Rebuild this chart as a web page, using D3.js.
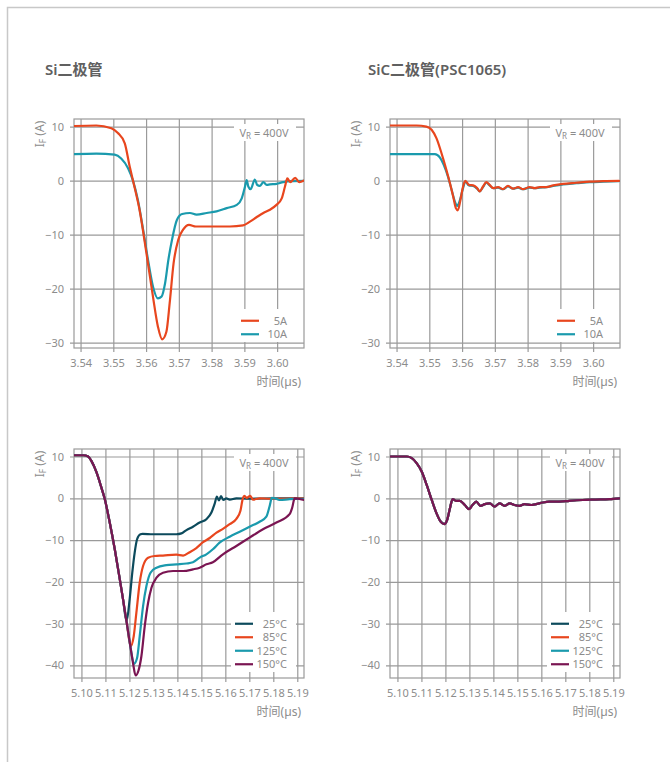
<!DOCTYPE html>
<html>
<head>
<meta charset="utf-8">
<script src="https://cdn.jsdelivr.net/npm/d3@7/dist/d3.min.js"></script>
<style>
  html, body { margin: 0; padding: 0; background: #fff; }
  svg { display: block; }
</style>
</head>
<body>
<svg id="chart" width="670" height="762"></svg>
<script>
// ---- Reverse-recovery current waveforms, I_F (A) vs time (µs) ----

// Time axis ticks
const timeTicksTop = [3.54, 3.55, 3.56, 3.57, 3.58, 3.59, 3.60];
const timeTicksBottom = [5.10, 5.11, 5.12, 5.13, 5.14, 5.15, 5.16, 5.17, 5.18, 5.19];
const currentTicksTop = [10, 0, -10, -20, -30];
const currentTicksBottom = [10, 0, -10, -20, -30, -40];

const panelTitles = ["Si二极管", "SiC二极管(PSC1065)"];
const currentLegend = ["5A", "10A"];
const tempLegend = ["25°C", "85°C", "125°C", "150°C"];

// Si diode, two forward currents: [t (µs), I_F (A)]
const si5A = [[3.538,10.1],[3.5448,10.2],[3.5494,9.7],[3.5514,8.8],[3.5535,6.9],[3.555,2.6],[3.556,0],[3.558,-5.4],[3.5601,-13.4],[3.5621,-21.5],[3.5636,-27],[3.5649,-29.4],[3.5662,-28],[3.5672,-22.7],[3.5684,-15.3],[3.5698,-11],[3.5713,-9.1],[3.5731,-8.2],[3.5752,-8.5],[3.5805,-8.5],[3.5856,-8.5],[3.5896,-8.3],[3.5917,-7.6],[3.5937,-6.8],[3.5958,-6.0],[3.5978,-5.4],[3.5998,-4.5],[3.6014,-3.3],[3.6024,-1.1],[3.6031,0.4],[3.604,-0.3],[3.6055,0.5],[3.6068,-0.3],[3.6082,0]];
const si10A = [[3.538,4.9],[3.5448,5.0],[3.5504,4.8],[3.5524,4.1],[3.5545,2.3],[3.556,0],[3.5575,-3.6],[3.5591,-9.1],[3.5606,-14.7],[3.5621,-19.6],[3.5636,-21.8],[3.5647,-21.5],[3.5658,-19],[3.5668,-14.7],[3.5679,-11],[3.5694,-7.3],[3.571,-6.2],[3.5734,-6.0],[3.5754,-6.3],[3.5785,-6.0],[3.5815,-5.7],[3.5846,-5.1],[3.5877,-4.5],[3.5892,-3.3],[3.5902,-1.1],[3.5907,0.1],[3.5912,-1.1],[3.5919,-1.6],[3.5932,0.2],[3.5939,-0.8],[3.5947,-1.0],[3.5958,-0.3],[3.5968,-0.8],[3.5978,-0.7],[3.5998,-0.6],[3.6018,-0.3],[3.604,-0.1],[3.6082,-0.05]];

// SiC diode (PSC1065), two forward currents
const sic5A = [[3.538,10.2],[3.5461,10.2],[3.5491,10],[3.5507,9.4],[3.5522,7.8],[3.5537,5.1],[3.5552,2.0],[3.5563,-0.5],[3.5573,-3.0],[3.5581,-5.1],[3.5587,-5.5],[3.5595,-3.6],[3.5603,-1.1],[3.561,-0.05],[3.5621,-0.8],[3.5634,-0.9],[3.5646,-1.4],[3.5654,-2.0],[3.5664,-1.1],[3.5674,-0.3],[3.5684,-0.8],[3.5695,-1.4],[3.571,-1.2],[3.5725,-1.6],[3.574,-1.0],[3.5756,-1.5],[3.5771,-1.2],[3.5786,-1.6],[3.5806,-1.2],[3.5822,-1.4],[3.5837,-1.2],[3.5857,-1.2],[3.5878,-0.9],[3.5908,-0.6],[3.5949,-0.4],[3.599,-0.2],[3.6031,-0.1],[3.6079,-0.05]];
const sic10A = [[3.538,4.9],[3.5461,4.9],[3.5517,4.9],[3.5532,4.3],[3.5544,2.9],[3.5557,0.7],[3.5568,-1.7],[3.5578,-3.9],[3.5585,-4.7],[3.5592,-3.9],[3.5603,-1.4],[3.561,-0.2],[3.5621,-0.9],[3.5634,-1.0],[3.5646,-1.5],[3.5654,-2.0],[3.5664,-1.2],[3.5674,-0.4],[3.5684,-0.9],[3.5695,-1.4],[3.571,-1.3],[3.5725,-1.6],[3.574,-1.1],[3.5756,-1.5],[3.5771,-1.3],[3.5786,-1.6],[3.5806,-1.3],[3.5822,-1.4],[3.5837,-1.3],[3.5857,-1.2],[3.5878,-1.0],[3.5908,-0.7],[3.5949,-0.5],[3.599,-0.3],[3.6031,-0.2],[3.6079,-0.1]];

// Si diode at four junction temperatures
const si25C = [[5.0969,10.3],[5.1007,10.3],[5.1028,10],[5.1042,8.9],[5.1063,6.2],[5.1083,2.6],[5.1097,-0.1],[5.1118,-5.8],[5.1139,-12.2],[5.116,-19.4],[5.1173,-24.0],[5.1188,-29.4],[5.1201,-24.2],[5.1212,-17.8],[5.1222,-13],[5.1232,-9.8],[5.1246,-8.6],[5.1255,-8.5],[5.1298,-8.6],[5.134,-8.6],[5.1396,-8.6],[5.1417,-8.4],[5.1438,-7.6],[5.1465,-6.8],[5.1493,-5.8],[5.1521,-5.0],[5.1542,-3.4],[5.1555,-1.4],[5.1565,0.4],[5.1573,-0.5],[5.1582,0.5],[5.1592,-0.4],[5.1604,0],[5.1618,-0.3],[5.1646,0],[5.17,-0.1],[5.18,0],[5.1928,0]];
const si85C = [[5.0969,10.3],[5.1007,10.3],[5.1028,10],[5.1042,8.9],[5.1063,6.2],[5.1083,2.6],[5.1097,-0.1],[5.1118,-5.8],[5.1139,-12.2],[5.116,-19.4],[5.1173,-24.0],[5.119,-30.2],[5.1205,-35.4],[5.1218,-33],[5.1229,-27.4],[5.1243,-20.2],[5.1257,-16.2],[5.1278,-14.2],[5.1305,-13.8],[5.134,-13.7],[5.1396,-13.5],[5.1424,-13.7],[5.1451,-12.9],[5.1479,-11.9],[5.1507,-10.5],[5.1535,-9.5],[5.1563,-8.2],[5.159,-7.3],[5.1618,-6.2],[5.1646,-4.9],[5.1663,-3.0],[5.1673,0],[5.168,0.6],[5.1689,0.1],[5.1704,0.6],[5.1715,-0.3],[5.1743,0],[5.1785,-0.1],[5.1928,0]];
const si125C = [[5.0969,10.3],[5.1007,10.3],[5.1028,10],[5.1042,8.9],[5.1063,6.2],[5.1083,2.6],[5.1097,-0.1],[5.1118,-5.8],[5.1139,-12.2],[5.116,-19.4],[5.1173,-24.0],[5.119,-30.2],[5.1205,-35.8],[5.1219,-39.6],[5.1232,-38.2],[5.1243,-33],[5.1257,-25.8],[5.1271,-21],[5.1288,-17.8],[5.1313,-16.6],[5.1354,-16.0],[5.1396,-15.8],[5.1438,-15.6],[5.1465,-15.3],[5.1493,-14.2],[5.1521,-13.4],[5.1548,-12.2],[5.1576,-10.6],[5.1618,-9.2],[5.166,-8.0],[5.1701,-6.8],[5.1743,-5.6],[5.1771,-4.4],[5.1785,-1.8],[5.1794,0.1],[5.1806,0],[5.1826,-0.4],[5.1868,-0.2],[5.1928,-0.1]];
const si150C = [[5.0969,10.3],[5.1007,10.3],[5.1028,10],[5.1042,8.9],[5.1063,6.2],[5.1083,2.6],[5.1097,-0.1],[5.1118,-5.8],[5.1139,-12.2],[5.116,-19.4],[5.1173,-24.0],[5.119,-30.2],[5.1205,-35.8],[5.1215,-39.4],[5.1226,-42.4],[5.1238,-41.2],[5.125,-37.8],[5.1264,-30.6],[5.1278,-25],[5.1292,-21.4],[5.1313,-19],[5.134,-17.8],[5.1382,-17.4],[5.1424,-17.4],[5.1465,-17.0],[5.1493,-16.6],[5.1521,-15.8],[5.1548,-15.3],[5.159,-13.4],[5.1646,-11.4],[5.1701,-9.4],[5.1757,-7.4],[5.1813,-5.8],[5.1868,-3.8],[5.1879,-2.2],[5.1889,0],[5.1903,-0.1],[5.1928,-0.4]];

// SiC diode at four junction temperatures (shared time base)
const sicTempTime = [5.0969,5.1039,5.106,5.108,5.1101,5.1122,5.1143,5.1163,5.118,5.1195,5.1207,5.1219,5.123,5.1244,5.126,5.1281,5.1298,5.1313,5.1329,5.1346,5.1364,5.1385,5.1405,5.1426,5.1447,5.1468,5.1488,5.1509,5.153,5.1558,5.1578,5.1606,5.1634,5.1675,5.1717,5.1772,5.1827,5.1883,5.1928];
const sic25C  = [10,10,9.6,8.4,6.4,3.2,-0.4,-3.6,-5.5,-6.1,-5.2,-2.4,-0.2,-0.6,-0.6,-1.6,-2.5,-1.6,-0.8,-1.8,-1.4,-1.2,-1.9,-1.2,-1.8,-1.2,-1.6,-1.8,-1.4,-1.6,-1.4,-1.0,-0.8,-0.8,-0.6,-0.4,-0.3,-0.2,0];
const sic85C  = [10,10,9.6,8.4,6.4,3.2,-0.4,-3.6,-5.6,-6.2,-5.2,-2.4,-0.2,-0.6,-0.6,-1.6,-2.6,-1.6,-0.8,-1.8,-1.4,-1.2,-2.0,-1.2,-1.8,-1.2,-1.6,-1.8,-1.4,-1.6,-1.4,-1.0,-0.8,-0.8,-0.6,-0.4,-0.3,-0.2,0];
const sic125C = [10,10,9.6,8.4,6.4,3.2,-0.4,-3.6,-5.6,-6.2,-5.2,-2.4,-0.2,-0.6,-0.6,-1.6,-2.6,-1.6,-0.8,-1.8,-1.4,-1.2,-2.0,-1.2,-1.8,-1.2,-1.6,-1.8,-1.4,-1.6,-1.4,-1.0,-0.8,-0.8,-0.6,-0.4,-0.3,-0.2,0];
const sic150C = [10,10,9.6,8.4,6.4,3.2,-0.4,-3.6,-5.6,-6.2,-5.2,-2.4,-0.2,-0.6,-0.6,-1.6,-2.6,-1.6,-0.8,-1.8,-1.4,-1.2,-2.0,-1.2,-1.8,-1.2,-1.6,-1.8,-1.4,-1.6,-1.4,-1.0,-0.8,-0.8,-0.6,-0.4,-0.3,-0.2,0];

// ---- styling ----
const FONT = "'Noto Sans', 'Noto Sans CJK SC', sans-serif";
const TEXT = "#8c8c8c";
const GRID = "#9a9a9a";
const COLORS = {
  orange: "#e8461e",
  teal: "#1a9aad",
  navy: "#0c4a5c",
  plum: "#7a1552"
};

const zip = (t, v) => t.map((d, i) => [d, v[i]]);

const panels = [
  { x: 74, y: 119, w: 230, h: 229, xDomain: [3.538, 3.6082], yDomain: [-31, 11.4],
    xTicks: timeTicksTop, yTicks: currentTicksTop,
    series: [ { data: si10A, color: COLORS.teal }, { data: si5A, color: COLORS.orange } ],
    legend: [ { label: currentLegend[0], color: COLORS.orange }, { label: currentLegend[1], color: COLORS.teal } ] },
  { x: 390, y: 119, w: 230, h: 229, xDomain: [3.538, 3.6082], yDomain: [-31, 11.4],
    xTicks: timeTicksTop, yTicks: currentTicksTop,
    series: [ { data: sic10A, color: COLORS.teal }, { data: sic5A, color: COLORS.orange } ],
    legend: [ { label: currentLegend[0], color: COLORS.orange }, { label: currentLegend[1], color: COLORS.teal } ] },
  { x: 74, y: 449, w: 230, h: 229, xDomain: [5.0969, 5.1928], yDomain: [-43, 11.8],
    xTicks: timeTicksBottom, yTicks: currentTicksBottom,
    series: [ { data: si25C, color: COLORS.navy }, { data: si85C, color: COLORS.orange },
              { data: si125C, color: COLORS.teal }, { data: si150C, color: COLORS.plum } ],
    legend: tempLegend.map((l, i) => ({ label: l, color: [COLORS.navy, COLORS.orange, COLORS.teal, COLORS.plum][i] })) },
  { x: 390, y: 449, w: 230, h: 229, xDomain: [5.0969, 5.1928], yDomain: [-43, 11.8],
    xTicks: timeTicksBottom, yTicks: currentTicksBottom,
    series: [ { data: zip(sicTempTime, sic25C), color: COLORS.navy }, { data: zip(sicTempTime, sic85C), color: COLORS.orange },
              { data: zip(sicTempTime, sic125C), color: COLORS.teal }, { data: zip(sicTempTime, sic150C), color: COLORS.plum } ],
    legend: tempLegend.map((l, i) => ({ label: l, color: [COLORS.navy, COLORS.orange, COLORS.teal, COLORS.plum][i] })) }
];

const svg = d3.select("#chart");

// page frame
svg.append("path")
  .attr("d", "M7.5,762 V7.5 H670")
  .attr("fill", "none").attr("stroke", "#c8c8c8").attr("stroke-width", 1.5);

// column titles
[[45, panelTitles[0]], [368, panelTitles[1]]].forEach(([x, t]) => {
  svg.append("text").attr("x", x).attr("y", 75)
    .attr("font-family", FONT).attr("font-size", 15).attr("font-weight", 600)
    .attr("fill", "#606060").text(t);
});

const fmtY = v => (v < 0 ? "\u2212" + Math.abs(v) : String(v));

panels.forEach((p, pi) => {
  const g = svg.append("g").attr("transform", `translate(${p.x},${p.y})`);
  const xs = d3.scaleLinear().domain(p.xDomain).range([0, p.w]);
  const ys = d3.scaleLinear().domain(p.yDomain).range([p.h, 0]);

  // gridlines (extend a little outside as ticks)
  const yAxis = d3.axisLeft(ys).tickValues(p.yTicks).tickSizeInner(-p.w - 4).tickSizeOuter(0).tickPadding(6).tickFormat(fmtY);
  const yg = g.append("g").attr("transform", "translate(-4,0)").call(yAxis);
  yg.select(".domain").remove();
  const xAxis = d3.axisBottom(xs).tickValues(p.xTicks).tickSizeInner(-p.h - 4).tickSizeOuter(0).tickPadding(7).tickFormat(d3.format(".2f"));
  const xg = g.append("g").attr("transform", `translate(0,${p.h + 4})`).call(xAxis);
  xg.select(".domain").remove();
  [yg, xg].forEach(a => {
    a.selectAll(".tick line").attr("stroke", GRID).attr("stroke-width", 1.2);
    a.selectAll(".tick text").attr("fill", TEXT).attr("font-family", FONT).attr("font-size", 11);
  });
  yg.selectAll(".tick text").attr("x", -6);

  // plot frame
  g.append("rect").attr("x", 0).attr("y", 0).attr("width", p.w).attr("height", p.h)
    .attr("fill", "none").attr("stroke", GRID).attr("stroke-width", 1.2);

  // V_R annotation box
  const vr = g.append("g").attr("transform", `translate(${p.w - 40},14)`);
  vr.append("rect").attr("x", -30).attr("y", -9).attr("width", 62).attr("height", 17).attr("fill", "#fff");
  const vt = vr.append("text").attr("text-anchor", "middle").attr("y", 4)
    .attr("font-family", FONT).attr("font-size", 11).attr("fill", TEXT);
  vt.append("tspan").text("V");
  vt.append("tspan").attr("font-size", 8).attr("dy", 2).text("R");
  vt.append("tspan").attr("dy", -2).text(" = 400V");

  // legend box
  const n = p.legend.length;
  const rowH = 13.5;
  const lgTop = p.h - 8 - n * rowH;
  const lg = g.append("g");
  lg.append("rect").attr("x", p.w - (n > 2 ? 73 : 68)).attr("y", lgTop - 4)
    .attr("width", n > 2 ? 65 : 62).attr("height", n * rowH + 6).attr("fill", "#fff");

  // clipped data lines
  const clipId = "clip" + pi;
  g.append("clipPath").attr("id", clipId).append("rect").attr("width", p.w).attr("height", p.h);
  const line = d3.line().x(d => xs(d[0])).y(d => ys(d[1])).curve(d3.curveMonotoneX);
  const lines = g.append("g").attr("clip-path", `url(#${clipId})`);
  p.series.forEach(s => {
    lines.append("path").datum(s.data).attr("d", line)
      .attr("fill", "none").attr("stroke", s.color).attr("stroke-width", 2.2)
      .attr("stroke-linejoin", "round").attr("stroke-linecap", "round");
  });

  // legend entries
  const lineX0 = n > 2 ? p.w - 69 : p.w - 63;
  p.legend.forEach((e, i) => {
    const cy = lgTop + rowH * i + rowH / 2 + 1;
    lg.append("line").attr("x1", lineX0).attr("x2", lineX0 + 18).attr("y1", cy).attr("y2", cy)
      .attr("stroke", e.color).attr("stroke-width", 2.2);
    lg.append("text").attr("x", p.w - 17).attr("y", cy + 4).attr("text-anchor", "end")
      .attr("font-family", FONT).attr("font-size", 11).attr("fill", TEXT).text(e.label);
  });

  // y-axis title I_F (A)
  const yt = g.append("text").attr("transform", `translate(-30,15) rotate(-90)`)
    .attr("text-anchor", "middle").attr("font-family", FONT).attr("font-size", 12).attr("fill", TEXT);
  yt.append("tspan").text("I");
  yt.append("tspan").attr("font-size", 8.5).attr("dy", 2).text("F");
  yt.append("tspan").attr("dy", -2).text(" (A)");

  // x-axis title
  g.append("text").attr("x", p.w - 3).attr("y", p.h + 38).attr("text-anchor", "end")
    .attr("font-family", FONT).attr("font-size", 12).attr("fill", TEXT).text("时间(µs)");
});
</script>
</body>
</html>
